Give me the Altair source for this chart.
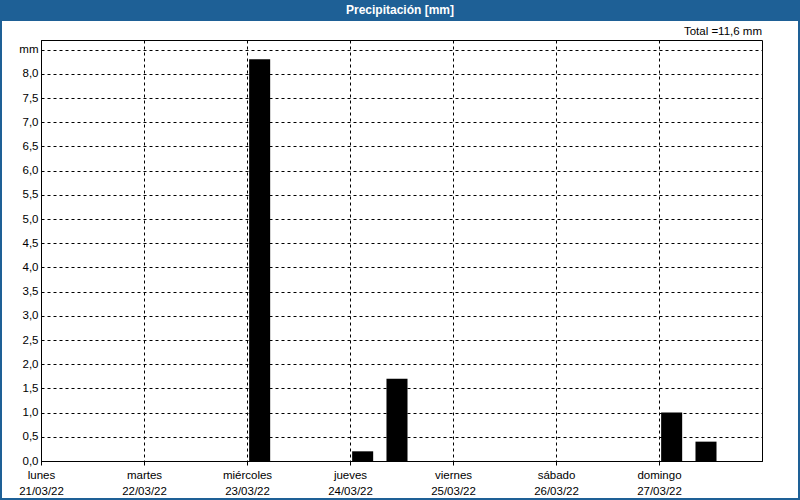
import altair as alt
import pandas as pd

dias = ["lunes", "martes", "miércoles", "jueves", "viernes", "sábado", "domingo"]
fechas = ["21/03/22", "22/03/22", "23/03/22", "24/03/22", "25/03/22", "26/03/22", "27/03/22"]
# precipitation per 8-hour slot (00-08, 08-16, 16-24) for each day, mm
lluvia = [
    [0.0, 0.0, 0.0],
    [0.0, 0.0, 0.0],
    [8.3, 0.0, 0.0],
    [0.2, 1.7, 0.0],
    [0.0, 0.0, 0.0],
    [0.0, 0.0, 0.0],
    [1.0, 0.4, 0.0],
]
y_ticks = [0.0, 0.5, 1.0, 1.5, 2.0, 2.5, 3.0, 3.5, 4.0, 4.5, 5.0, 5.5, 6.0, 6.5, 7.0, 7.5, 8.0, 8.5]

BLUE = "#1e6096"
FONT = "Liberation Sans"

rows = []
for d, vals in enumerate(lluvia):
    for s, v in enumerate(vals):
        start = d * 24 + s * 8
        rows.append({"ini": start + 0.5, "fin": start + 5.4, "mm": v, "base": 0.0})
df = pd.DataFrame(rows)
df = df[df["mm"] > 0]
total = sum(sum(v) for v in lluvia)

W, H = 721, 421
PL, PT, PR, PB = 41, 40, 38, 39

label_arr = "[" + ",".join(f"['{a}','{b}']" for a, b in zip(dias, fechas)) + "]"

bars = alt.Chart(df).mark_bar(color="#000000").encode(
    x=alt.X("ini:Q", scale=alt.Scale(domain=[0, 168], nice=False, zero=False),
            axis=alt.Axis(values=[0, 24, 48, 72, 96, 120, 144], title=None,
                          labelExpr=f"{label_arr}[datum.value/24]",
                          labelBaseline="top", labelLineHeight=16, labelPadding=4,
                          labelFont=FONT, labelFontSize=11.5, labelColor="#000000",
                          labelAlign="center", labelFlush=False, labelOverlap=False,
                          ticks=True, tickSize=4, tickColor="#000000",
                          grid=True, gridColor="#000000", gridDash=[3, 3], gridOpacity=1,
                          domainColor="#000000")),
    x2="fin:Q",
    y=alt.Y("mm:Q", scale=alt.Scale(domain=[0, 8.7], nice=False),
            axis=alt.Axis(values=y_ticks, title=None,
                          labelExpr="datum.value == 8.5 ? 'mm' : replace(format(datum.value, '.1f'), '.', ',')",
                          labelFont=FONT, labelFontSize=11.5, labelColor="#000000",
                          labelPadding=3, ticks=False, labelFlush=False,
                          grid=True, gridColor="#000000", gridDash=[3, 3], gridOpacity=1,
                          domainColor="#000000")),
    y2="base:Q",
)

one = pd.DataFrame({"k": [0]})
titlebar = alt.Chart(one).mark_rect(color=BLUE).encode(
    x=alt.value(-PL), x2=alt.value(W + PR), y=alt.value(-PT), y2=alt.value(-PT + 21)
)
frame = alt.Chart(one).mark_rect(fill=None, stroke=BLUE, strokeWidth=2).encode(
    x=alt.value(-PL + 1), x2=alt.value(W + PR - 1), y=alt.value(-PT + 1), y2=alt.value(H + PB - 1)
)
title = alt.Chart(one).mark_text(color="white", font=FONT, fontSize=12, fontWeight="bold",
                                 align="center", baseline="middle").encode(
    x=alt.value((W + PL + PR) / 2 - PL), y=alt.value(-PT + 10),
    text=alt.value("Precipitación [mm]"))
tot = alt.Chart(one).mark_text(color="#000000", font=FONT, fontSize=11.5,
                               align="right", baseline="middle").encode(
    x=alt.value(W), y=alt.value(-8),
    text=alt.value("Total =" + f"{total:.1f}".replace(".", ",") + " mm"))

chart = alt.layer(bars, titlebar, frame, title, tot).properties(
    width=W, height=H,
    padding={"left": PL, "top": PT, "right": PR, "bottom": PB},
    autosize=alt.AutoSizeParams(type="none"),
    background="white",
).configure_view(stroke="#000000", strokeWidth=1)

chart.save("out.html", embed_options={"renderer": "svg", "actions": False})
